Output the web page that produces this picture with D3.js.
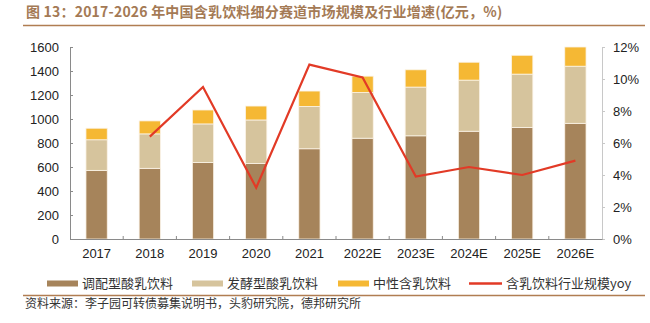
<!DOCTYPE html>
<html>
<head>
<meta charset="utf-8">
<script src="https://cdn.jsdelivr.net/npm/d3@7"></script>
<style>
  body { margin: 0; background: #fff; }
  text { font-family: "Liberation Sans", Arial, sans-serif; }
  .cjk { font-family: "Noto Sans CJK SC", sans-serif; }
</style>
</head>
<body>
<div id="root"></div>
<script>
const years = ["2017", "2018", "2019", "2020", "2021", "2022E", "2023E", "2024E", "2025E", "2026E"];
// 亿元
const blended = [572, 589, 638, 630, 752, 840, 860, 898, 929, 964];
const fermented = [255, 287, 321, 362, 353, 381, 406, 426, 445, 476];
const neutral = [96, 108, 116, 116, 128, 136, 144, 149, 157, 160];
// yoy %, starts at 2018
const yoyYears = ["2018", "2019", "2020", "2021", "2022E", "2023E", "2024E", "2025E", "2026E"];
const yoy = [6.4, 9.5, 3.2, 10.9, 10.1, 3.9, 4.5, 4.0, 4.9];

const leftTicks = [0, 200, 400, 600, 800, 1000, 1200, 1400, 1600];
const rightTicks = [0, 2, 4, 6, 8, 10, 12];

const seriesNames = ["调配型酸乳饮料", "发酵型酸乳饮料", "中性含乳饮料", "含乳饮料行业规模yoy"];
const colors = ["#a6845b", "#d6c49d", "#f5b834", "#e23a26"];

const outerWidth = 650;
const outerHeight = 323;
const margin = { top: 47, right: 48, bottom: 84, left: 70 };
const width = outerWidth - margin.left - margin.right;
const height = outerHeight - margin.top - margin.bottom;

const svg = d3.select("#root").append("svg")
    .attr("width", outerWidth)
    .attr("height", outerHeight);

// title + rule
svg.append("text")
    .attr("class", "cjk")
    .attr("x", 26).attr("y", 17)
    .attr("fill", "#a47a55")
    .attr("font-size", 14)
    .attr("font-weight", "bold")
    .attr("letter-spacing", 0.2)
    .text("图 13：2017-2026 年中国含乳饮料细分赛道市场规模及行业增速(亿元，%)");
svg.append("line")
    .attr("x1", 23).attr("x2", 645).attr("y1", 25.5).attr("y2", 25.5)
    .attr("stroke", "#b07d52").attr("stroke-width", 1.5);

const chart = svg.append("g").attr("transform", `translate(${margin.left}, ${margin.top})`);

const scaleX = d3.scaleBand().domain(years).range([0, width]).paddingInner(0.6).paddingOuter(0.3);
const scaleY = d3.scaleLinear().domain([0, 1600]).range([height, 0]);
const scaleY2 = d3.scaleLinear().domain([0, 12]).range([height, 0]);

const rows = years.map((y, i) => ({ year: y, blended: blended[i], fermented: fermented[i], neutral: neutral[i] }));
const stack = d3.stack().keys(["blended", "fermented", "neutral"])(rows);

chart.selectAll(".layer")
    .data(stack)
    .join("g")
    .attr("class", "layer")
    .attr("fill", (d, i) => colors[i])
    .selectAll("rect")
    .data(d => d)
    .join("rect")
    .attr("x", d => scaleX(d.data.year))
    .attr("y", d => scaleY(d[1]))
    .attr("width", scaleX.bandwidth())
    .attr("height", d => scaleY(d[0]) - scaleY(d[1]))
    .attr("stroke", "#fbf3e6")
    .attr("stroke-width", 0.8);

// axes
const yAxis = d3.axisLeft(scaleY).tickValues(leftTicks).tickFormat(d3.format("d")).tickSize(-3).tickPadding(11);
const gy = chart.append("g").call(yAxis);
gy.select(".domain").attr("stroke", "#8a8a8a");
gy.selectAll(".tick line").attr("stroke", "#8a8a8a");
gy.selectAll("text").attr("font-size", 13).attr("fill", "#222")
    .attr("font-family", "Liberation Sans, Arial, sans-serif");

const yAxis2 = d3.axisRight(scaleY2).tickValues(rightTicks).tickSize(3).tickFormat(d => d + "%").tickPadding(8);
const gy2 = chart.append("g").attr("transform", `translate(${width}, 0)`).call(yAxis2);
gy2.select(".domain").attr("stroke", "#c8c8c8");
gy2.selectAll(".tick line").attr("stroke", "#c8c8c8");
gy2.selectAll("text").attr("font-size", 13).attr("fill", "#222")
    .attr("font-family", "Liberation Sans, Arial, sans-serif");

const xAxis = d3.axisBottom(scaleX).tickSize(0).tickPadding(10);
const gx = chart.append("g").attr("transform", `translate(0, ${height})`).call(xAxis);
gx.select(".domain").attr("stroke", "#8a8a8a");
gx.selectAll("text").attr("font-size", 13).attr("fill", "#222")
    .attr("font-family", "Liberation Sans, Arial, sans-serif");
// separators between categories
const step = scaleX.step();
const boundaries = years.slice(1).map(y => scaleX(y) - step * scaleX.paddingInner() / 2);
gx.selectAll(".sep")
    .data(boundaries)
    .join("line")
    .attr("x1", d => d).attr("x2", d => d)
    .attr("y1", 0).attr("y2", -3)
    .attr("stroke", "#8a8a8a");

// yoy line
const line = d3.line()
    .x((d, i) => scaleX(yoyYears[i]) + scaleX.bandwidth() / 2)
    .y(d => scaleY2(d));
chart.append("path")
    .datum(yoy)
    .attr("fill", "none")
    .attr("stroke", colors[3])
    .attr("stroke-width", 2.2)
    .attr("stroke-linejoin", "miter")
    .attr("d", line);

// legend
const legendX = [47, 192, 338, 469];
const legend = svg.append("g").attr("transform", "translate(0, 283.5)");
seriesNames.forEach((name, i) => {
    const g = legend.append("g").attr("transform", `translate(${legendX[i]}, 0)`);
    if (i < 3) {
        g.append("rect").attr("x", 0).attr("y", -3).attr("width", 31).attr("height", 6).attr("fill", colors[i]);
    } else {
        g.append("line").attr("x1", 0).attr("x2", 33).attr("y1", 0).attr("y2", 0)
            .attr("stroke", colors[i]).attr("stroke-width", 2.5);
    }
    g.append("text")
        .attr("class", "cjk")
        .attr("x", i < 3 ? 35 : 37)
        .attr("y", 0)
        .attr("dy", "0.36em")
        .attr("font-size", 13)
        .attr("fill", "#333")
        .text(name);
});

svg.append("line")
    .attr("x1", 23).attr("x2", 645).attr("y1", 295.5).attr("y2", 295.5)
    .attr("stroke", "#b07d52").attr("stroke-width", 1.5);

svg.append("text")
    .attr("class", "cjk")
    .attr("x", 25).attr("y", 308)
    .attr("font-size", 12)
    .attr("fill", "#333")
    .text("资料来源：李子园可转债募集说明书，头豹研究院，德邦研究所");
</script>
</body>
</html>
